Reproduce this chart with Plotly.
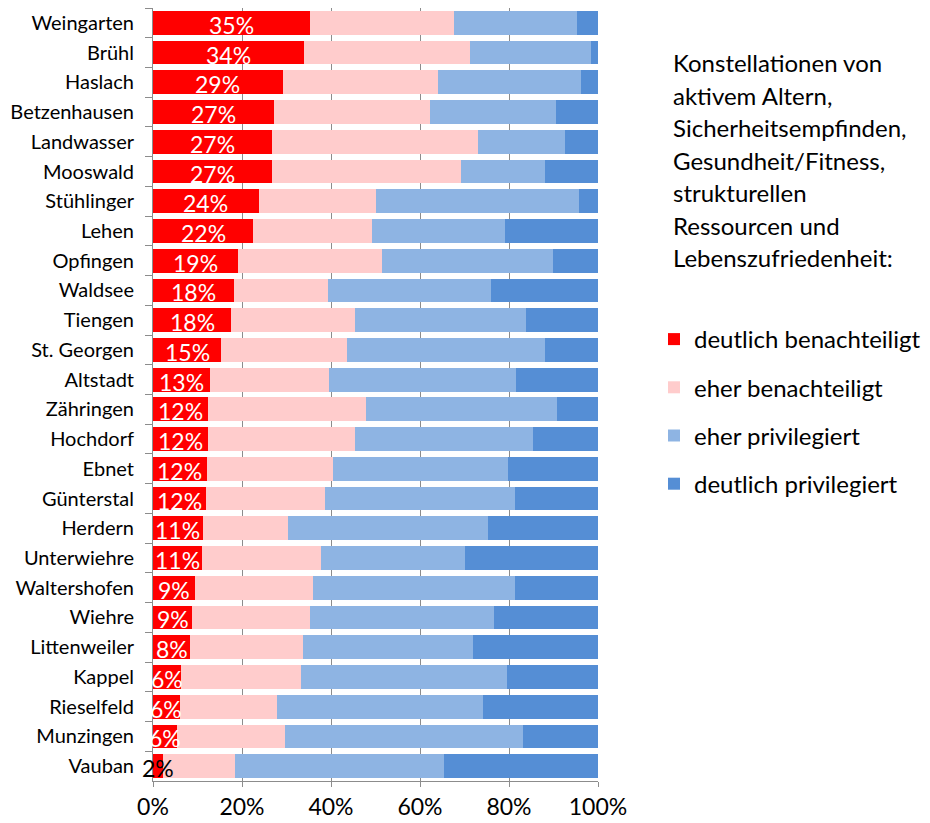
import plotly.graph_objects as go

districts = ["Weingarten", "Brühl", "Haslach", "Betzenhausen", "Landwasser", "Mooswald",
             "Stühlinger", "Lehen", "Opfingen", "Waldsee", "Tiengen", "St. Georgen",
             "Altstadt", "Zähringen", "Hochdorf", "Ebnet", "Günterstal", "Herdern",
             "Unterwiehre", "Waltershofen", "Wiehre", "Littenweiler", "Kappel",
             "Rieselfeld", "Munzingen", "Vauban"]

deutlich_benachteiligt = [35.2, 33.9, 29.1, 27.3, 26.8, 26.7, 23.8, 22.5, 19.0, 18.1, 17.6, 15.3,
                          12.7, 12.4, 12.4, 12.1, 11.9, 11.2, 11.0, 9.4, 8.8, 8.4, 6.4, 6.0, 5.5, 2.2]
eher_benachteiligt = [32.4, 37.3, 34.9, 34.9, 46.3, 42.6, 26.2, 26.8, 32.5, 21.3, 27.9, 28.4,
                      26.8, 35.5, 32.9, 28.4, 26.8, 19.1, 26.8, 26.6, 26.5, 25.4, 26.9, 21.9, 24.1, 16.2]
eher_privilegiert = [27.6, 27.2, 32.1, 28.3, 19.4, 18.7, 45.7, 29.7, 38.3, 36.5, 38.4, 44.3,
                     42.0, 42.8, 40.2, 39.2, 42.6, 45.0, 32.2, 45.3, 41.3, 38.0, 46.2, 46.2, 53.5, 47.1]
deutlich_privilegiert = [4.8, 1.6, 3.9, 9.5, 7.5, 12.0, 4.3, 21.0, 10.2, 24.1, 16.1, 12.0,
                         18.5, 9.3, 14.5, 20.3, 18.7, 24.7, 30.0, 18.7, 23.4, 28.2, 20.5, 25.9, 16.9, 34.5]

series_names = ["deutlich benachteiligt", "eher benachteiligt", "eher privilegiert", "deutlich privilegiert"]
series_colors = ["#FF0000", "#FFCCCC", "#8EB4E3", "#558ED5"]
series_values = [deutlich_benachteiligt, eher_benachteiligt, eher_privilegiert, deutlich_privilegiert]

x_tickvals = [0, 20, 40, 60, 80, 100]
x_ticktext = ["0%", "20%", "40%", "60%", "80%", "100%"]

legend_title_lines = ["Konstellationen von", "aktivem Altern,", "Sicherheitsempfinden,",
                      "Gesundheit/Fitness,", "strukturellen", "Ressourcen und",
                      "Lebenszufriedenheit:"]

FONT = "Lato"

fig = go.Figure()
for name, color, vals in zip(series_names, series_colors, series_values):
    fig.add_trace(go.Bar(
        y=districts, x=vals, name=name, orientation="h",
        marker=dict(color=color, line=dict(width=0)),
        legendgroup=name, hoverinfo="x+y+name"))

# page has an 8px body margin; figure coordinates = page coordinates - 8
OFF = 8
W, H = 930, 823
L, T = 153 - OFF, 8 - OFF
R = W - (598 - OFF)
B = H - (781 - OFF)
pw = W - L - R
ph = H - T - B


def px_x(px):
    return (px - OFF - L) / pw


def px_y(py):
    return (H - B - (py - OFF)) / ph


annotations = []
# value labels centred in the red segment (data coordinates)
for d, v in zip(districts, deutlich_benachteiligt):
    annotations.append(dict(
        x=v / 2, y=d, xref="x", yref="y", text=f"{round(v)}%",
        showarrow=False, xanchor="center", yanchor="middle", yshift=-2,
        font=dict(family=FONT, size=23, color="white" if v >= 4 else "black")))

for k, line in enumerate(legend_title_lines):
    annotations.append(dict(
        text=line, xref="paper", yref="paper",
        x=px_x(671), y=px_y(63 + k * 32.5),
        xanchor="left", yanchor="middle", showarrow=False,
        font=dict(family=FONT, size=24, color="black")))

fig.update_layout(
    width=W, height=H,
    margin=dict(l=L, r=R, t=T, b=B, pad=0, autoexpand=False),
    barmode="stack", bargap=0.2,
    plot_bgcolor="white", paper_bgcolor="white",
    font=dict(family=FONT, size=20, color="black"),
    showlegend=True,
    legend=dict(x=px_x(654), xanchor="left",
                y=px_y(317), yanchor="top",
                traceorder="grouped", tracegroupgap=14,
                font=dict(family=FONT, size=24, color="black"),
                bgcolor="rgba(0,0,0,0)"),
    annotations=annotations,
)
fig.update_xaxes(range=[0, 100], tickvals=x_tickvals, ticktext=x_ticktext,
                 showgrid=True, gridcolor="#8C8C8C", gridwidth=1,
                 showline=True, linecolor="#8C8C8C", linewidth=1,
                 ticks="outside", ticklen=5, tickcolor="#8C8C8C",
                 tickfont=dict(family=FONT, size=23, color="black"),
                 zeroline=False, fixedrange=True, automargin=False)
fig.update_yaxes(categoryorder="array", categoryarray=districts,
                 range=[len(districts) - 0.5, -0.5],
                 showline=True, linecolor="#8C8C8C", linewidth=1,
                 ticks="outside", tickson="boundaries", ticklen=7, tickcolor="#8C8C8C",
                 ticklabelstandoff=14,
                 tickfont=dict(family=FONT, size=20, color="black"),
                 showgrid=False, fixedrange=True, automargin=False)

fig.write_html("out.html")
